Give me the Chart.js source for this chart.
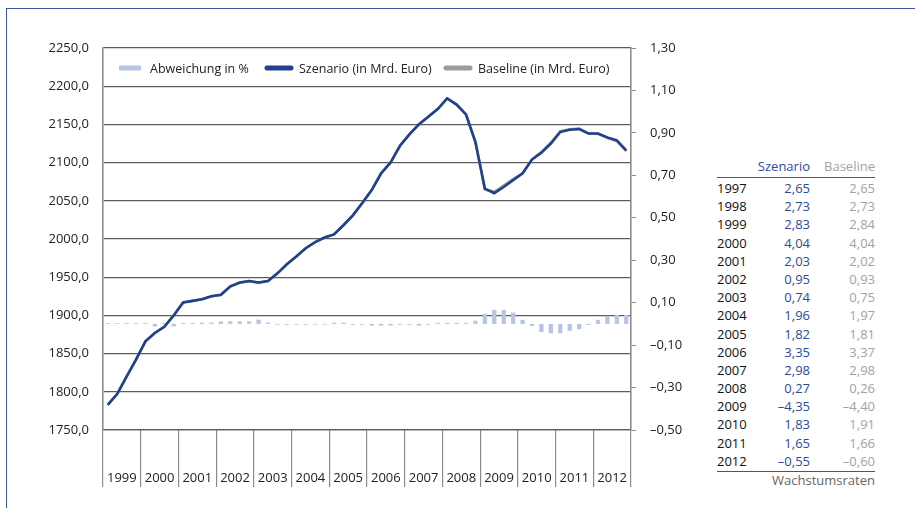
<!DOCTYPE html>
<html lang="de">
<head>
<meta charset="utf-8">
<title>Szenario vs. Baseline</title>
<script src="https://cdn.jsdelivr.net/npm/chart.js@4.4.1/dist/chart.umd.min.js"></script>
<style>
  html, body { margin:0; padding:0; background:#fff; }
  body { width:915px; height:508px; position:relative; overflow:hidden; font-family:"Open Sans", sans-serif; }
  #frame { position:absolute; left:6px; top:8px; right:0; bottom:0; border-top:1px solid #3a58a4; border-left:1px solid #3a58a4; }
  #chartBox { position:absolute; left:0; top:0; width:700px; height:508px; }
  #tabelle { position:absolute; left:717px; top:157px; width:158px; font-size:13px; }
  #tabelle .row { display:flex; height:18.2px; line-height:18.2px; }
  #tabelle .head { height:20px; line-height:18px; border-bottom:1.5px solid #555; }
  #tabelle .c0 { width:40px; color:#111; }
  #tabelle .c1 { width:53px; text-align:right; color:#2b4b9b; }
  #tabelle .c2 { width:65px; text-align:right; color:#a3a3a3; }
  #tabelle .rows { margin-top:1px; border-bottom:1.5px solid #555; padding-bottom:1px; }
  #tabelle .fuss { text-align:right; color:#666; line-height:17px; }
</style>
</head>
<body>
<div id="frame"></div>
<div id="chartBox"><canvas id="chart-szenario"></canvas></div>
<div id="tabelle"></div>

<script>
// Jahre (x-Achse) und Quartalsdaten
const jahre = ['1999','2000','2001','2002','2003','2004','2005','2006','2007','2008','2009','2010','2011','2012'];
const quartale = jahre.flatMap(j => ['Q1','Q2','Q3','Q4'].map(q => j + ' ' + q));

// Szenario (in Mrd. Euro), je Quartal
const szenario = [
  1783, 1797, 1820, 1842,
  1866, 1877, 1885, 1900,
  1917, 1919, 1921, 1925,
  1927, 1938, 1943, 1945,
  1943, 1945, 1955, 1967,
  1977, 1988, 1996, 2002,
  2006, 2018, 2031, 2047,
  2064, 2086, 2100, 2122,
  2137, 2150, 2160, 2170,
  2184, 2176, 2163, 2127,
  2066, 2060, 2068, 2077,
  2086, 2104, 2113, 2125,
  2140, 2143, 2144, 2138,
  2138, 2133, 2129, 2116
];

// Baseline (in Mrd. Euro) — fast deckungsgleich, sichtbar nur 2009
const baseline = [
  1783, 1797, 1820, 1842,
  1866, 1877.2, 1885, 1900.2,
  1917, 1919, 1921, 1925,
  1926.8, 1937.8, 1942.8, 1944.8,
  1942.6, 1945, 1955, 1967,
  1977, 1988, 1996, 2002,
  2006, 2018, 2031, 2047,
  2064.2, 2086.2, 2100.2, 2122,
  2137, 2150.2, 2160, 2170,
  2184, 2176, 2163, 2126.7,
  2065, 2061.8, 2069.8, 2078.5,
  2085.6, 2104.2, 2113.8, 2126,
  2141, 2143.7, 2144.5, 2138.1,
  2137.6, 2132.2, 2128.1, 2115.1
];

// Abweichung in % (rechte Achse)
const abweichung = [
  0.004, 0.004, 0.004, 0.004,
  0.004, -0.012, 0.004, -0.012,
  0.004, 0.004, 0.006, 0.006,
  0.012, 0.012, 0.012, 0.012,
  0.02, 0.006, -0.004, -0.004,
  -0.004, -0.004, -0.004, -0.004,
  0.006, 0.006, -0.004, -0.004,
  -0.008, -0.008, -0.008, -0.004,
  -0.004, -0.008, -0.004, 0.005,
  0.005, 0.005, 0.005, 0.015,
  0.046, 0.066, 0.066, 0.053,
  0.019, -0.01, -0.038, -0.044,
  -0.044, -0.033, -0.025, -0.005,
  0.019, 0.038, 0.042, 0.042
];

// Tabelle: Wachstumsraten
const tabJahre = ['1997','1998','1999','2000','2001','2002','2003','2004','2005','2006','2007','2008','2009','2010','2011','2012'];
const wachstumSzenario = [2.65, 2.73, 2.83, 4.04, 2.03, 0.95, 0.74, 1.96, 1.82, 3.35, 2.98, 0.27, -4.35, 1.83, 1.65, -0.55];
const wachstumBaseline = [2.65, 2.73, 2.84, 4.04, 2.02, 0.93, 0.75, 1.97, 1.81, 3.37, 2.98, 0.26, -4.40, 1.91, 1.66, -0.60];

const FARBE_BALKEN = '#b8c5e1';
const FARBE_SZENARIO = '#22418d';
const FARBE_BASELINE = '#9c9c9c';

function zahlDE(v, stellen) {
  return v.toFixed(stellen).replace('.', ',').replace('-', '\u2013');
}

// Tabelle rechts aufbauen
(function renderTabelle() {
  const el = document.getElementById('tabelle');
  let html = '<div class="row head"><span class="c0"></span><span class="c1">Szenario</span><span class="c2">Baseline</span></div><div class="rows">';
  tabJahre.forEach((j, i) => {
    html += '<div class="row"><span class="c0">' + j + '</span><span class="c1">' + zahlDE(wachstumSzenario[i], 2) +
            '</span><span class="c2">' + zahlDE(wachstumBaseline[i], 2) + '</span></div>';
  });
  html += '</div><div class="fuss">Wachstumsraten</div>';
  el.innerHTML = html;
})();

// Legende innerhalb der Zeichenfläche
const innenLegende = {
  id: 'innenLegende',
  afterDraw(chart) {
    const ctx = chart.ctx, a = chart.chartArea;
    const y = a.top + 20;
    const pos = [16, 162, 341];      // Symbolbeginn relativ zu chartArea.left
    const textPos = [47, 196, 375];
    ctx.save();
    ctx.font = '12.5px "Open Sans"';
    ctx.textBaseline = 'middle';
    chart.data.datasets.forEach((ds, i) => {
      const x = a.left + pos[i];
      if (ds.type === 'bar') {
        ctx.fillStyle = ds.backgroundColor;
        ctx.fillRect(x, y - 2.5, 22, 5);
      } else {
        ctx.strokeStyle = ds.borderColor;
        ctx.lineWidth = 5;
        ctx.lineCap = 'round';
        ctx.beginPath();
        ctx.moveTo(x + 2, y);
        ctx.lineTo(x + 26, y);
        ctx.stroke();
      }
      ctx.fillStyle = '#222';
      ctx.fillText(ds.label, a.left + textPos[i], y + 1);
    });
    ctx.restore();
  }
};

Chart.defaults.font.family = '"Open Sans", sans-serif';
Chart.defaults.font.size = 13;
Chart.defaults.color = '#222';

new Chart(document.getElementById('chart-szenario'), {
  type: 'bar',
  data: {
    labels: quartale,
    datasets: [
      {
        type: 'bar',
        label: 'Abweichung in %',
        data: abweichung,
        yAxisID: 'y2',
        backgroundColor: FARBE_BALKEN,
        barPercentage: 0.46,
        categoryPercentage: 1,
        order: 3
      },
      {
        type: 'line',
        label: 'Szenario (in Mrd. Euro)',
        data: szenario,
        yAxisID: 'y',
        borderColor: FARBE_SZENARIO,
        borderWidth: 2.6,
        pointRadius: 0,
        tension: 0,
        fill: false,
        order: 1
      },
      {
        type: 'line',
        label: 'Baseline (in Mrd. Euro)',
        data: baseline,
        yAxisID: 'y',
        borderColor: FARBE_BASELINE,
        borderWidth: 2.6,
        pointRadius: 0,
        tension: 0,
        fill: false,
        order: 2
      }
    ]
  },
  options: {
    responsive: true,
    maintainAspectRatio: false,
    animation: false,
    layout: { padding: { top: 48, left: 0, right: 0, bottom: 0 } },
    plugins: { legend: { display: false }, tooltip: { enabled: false } },
    scales: {
      x: { display: false, offset: true },
      jahre: {
        type: 'category',
        labels: jahre,
        position: 'bottom',
        offset: true,
        afterFit: s => { s.height = 78; },
        grid: { offset: true, drawOnChartArea: false, tickLength: 57, color: '#8c8c8c', lineWidth: 1.2 },
        border: { display: true, color: '#5c5c5c', width: 1.2 },
        ticks: { padding: -17, maxRotation: 0, autoSkip: false, font: { size: 13 } }
      },
      y: {
        position: 'left',
        min: 1750, max: 2250,
        afterFit: s => { s.width = 103; },
        ticks: { stepSize: 50, padding: 14, callback: v => zahlDE(v, 1) },
        grid: { drawTicks: false, color: '#5c5c5c', lineWidth: 1.2 },
        border: { display: true, color: '#8c8c8c', width: 1.6 }
      },
      y2: {
        position: 'right',
        min: -0.5, max: 1.3,
        afterFit: s => { s.width = 69; },
        ticks: { stepSize: 0.2, padding: 14, callback: v => zahlDE(v, 2) },
        grid: { drawOnChartArea: false, tickLength: 5, color: '#8c8c8c' },
        border: { display: true, color: '#8c8c8c', width: 1.6 }
      }
    }
  },
  plugins: [innenLegende]
});
</script>
</body>
</html>
